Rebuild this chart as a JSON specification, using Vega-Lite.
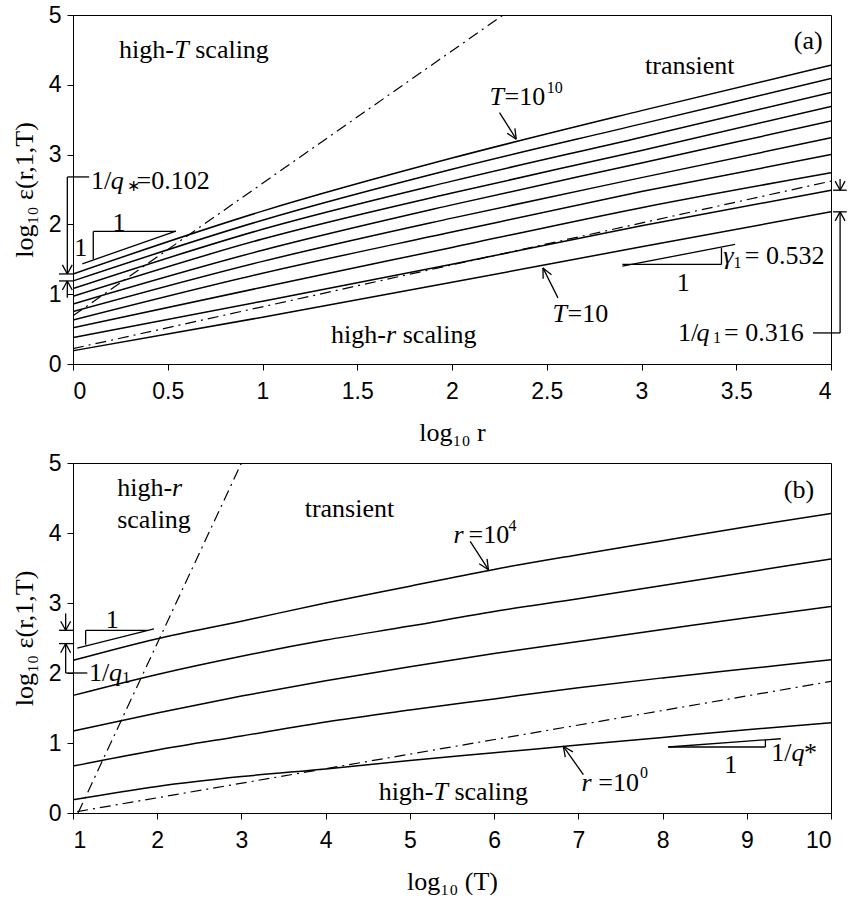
{
  "$schema": "https://vega.github.io/schema/vega-lite/v6.json",
  "background": "white",
  "padding": {"left": 10, "top": 3, "right": 8, "bottom": 0},
  "spacing": 5,
  "datasets": {
    "grid": [
      {"lr": 0, "lT": 1, "e": 0.19}, {"lr": 0, "lT": 2, "e": 0.38}, {"lr": 0, "lT": 3, "e": 0.52}, {"lr": 0, "lT": 4, "e": 0.63}, {"lr": 0, "lT": 5, "e": 0.75},
      {"lr": 0, "lT": 6, "e": 0.86}, {"lr": 0, "lT": 7, "e": 0.97}, {"lr": 0, "lT": 8, "e": 1.08}, {"lr": 0, "lT": 9, "e": 1.19}, {"lr": 0, "lT": 10, "e": 1.29},
      {"lr": 1, "lT": 1, "e": 0.67}, {"lr": 1, "lT": 2, "e": 0.90}, {"lr": 1, "lT": 3, "e": 1.10}, {"lr": 1, "lT": 4, "e": 1.30}, {"lr": 1, "lT": 5, "e": 1.47},
      {"lr": 1, "lT": 6, "e": 1.63}, {"lr": 1, "lT": 7, "e": 1.79}, {"lr": 1, "lT": 8, "e": 1.93}, {"lr": 1, "lT": 9, "e": 2.06}, {"lr": 1, "lT": 10, "e": 2.19},
      {"lr": 2, "lT": 1, "e": 1.17}, {"lr": 2, "lT": 2, "e": 1.43}, {"lr": 2, "lT": 3, "e": 1.67}, {"lr": 2, "lT": 4, "e": 1.89}, {"lr": 2, "lT": 5, "e": 2.09},
      {"lr": 2, "lT": 6, "e": 2.28}, {"lr": 2, "lT": 7, "e": 2.45}, {"lr": 2, "lT": 8, "e": 2.62}, {"lr": 2, "lT": 9, "e": 2.79}, {"lr": 2, "lT": 10, "e": 2.95},
      {"lr": 3, "lT": 1, "e": 1.68}, {"lr": 3, "lT": 2, "e": 1.98}, {"lr": 3, "lT": 3, "e": 2.24}, {"lr": 3, "lT": 4, "e": 2.47}, {"lr": 3, "lT": 5, "e": 2.67},
      {"lr": 3, "lT": 6, "e": 2.88}, {"lr": 3, "lT": 7, "e": 3.06}, {"lr": 3, "lT": 8, "e": 3.25}, {"lr": 3, "lT": 9, "e": 3.44}, {"lr": 3, "lT": 10, "e": 3.63},
      {"lr": 4, "lT": 1, "e": 2.18}, {"lr": 4, "lT": 2, "e": 2.49}, {"lr": 4, "lT": 3, "e": 2.74}, {"lr": 4, "lT": 4, "e": 3.00}, {"lr": 4, "lT": 5, "e": 3.24},
      {"lr": 4, "lT": 6, "e": 3.48}, {"lr": 4, "lT": 7, "e": 3.69}, {"lr": 4, "lT": 8, "e": 3.89}, {"lr": 4, "lT": 9, "e": 4.09}, {"lr": 4, "lT": 10, "e": 4.28}
    ],
    "asymA": [
      {"id": "highT", "x": 0, "y": 0.69}, {"id": "highT", "x": 2.27, "y": 5.0},
      {"id": "highR", "x": 0, "y": 0.22}, {"id": "highR", "x": 4, "y": 2.62}
    ],
    "asymB": [
      {"id": "highR", "x": 1.06, "y": 0}, {"id": "highR", "x": 3.0, "y": 5.0},
      {"id": "highT", "x": 1.05, "y": 0.02}, {"id": "highT", "x": 10, "y": 1.88}
    ],
    "strokesA": [
      {"x": -0.030, "y": 2.68, "x2": -0.030, "y2": 1.29},
      {"x": -0.030, "y": 2.68, "x2": 0.085, "y2": 2.68},
      {"x": -0.030, "y": 1.29, "x2": -0.056, "y2": 1.42},
      {"x": -0.030, "y": 1.29, "x2": -0.004, "y2": 1.42},
      {"x": -0.074, "y": 1.29, "x2": 0.0, "y2": 1.29},
      {"x": -0.074, "y": 1.19, "x2": 0.0, "y2": 1.19},
      {"x": -0.030, "y": 0.95, "x2": -0.030, "y2": 1.19},
      {"x": -0.030, "y": 1.19, "x2": -0.056, "y2": 1.06},
      {"x": -0.030, "y": 1.19, "x2": -0.004, "y2": 1.06},
      {"x": 0.049, "y": 1.435, "x2": 0.543, "y2": 1.904},
      {"x": 0.107, "y": 1.90, "x2": 0.107, "y2": 1.50},
      {"x": 0.107, "y": 1.90, "x2": 0.543, "y2": 1.90},
      {"x": 2.251, "y": 3.601, "x2": 2.339, "y2": 3.221},
      {"x": 2.339, "y": 3.221, "x2": 2.332, "y2": 3.376},
      {"x": 2.339, "y": 3.221, "x2": 2.291, "y2": 3.306},
      {"x": 2.559, "y": 0.947, "x2": 2.480, "y2": 1.377},
      {"x": 2.480, "y": 1.377, "x2": 2.481, "y2": 1.220},
      {"x": 2.480, "y": 1.377, "x2": 2.525, "y2": 1.280},
      {"x": 2.899, "y": 1.402, "x2": 3.494, "y2": 1.713},
      {"x": 2.899, "y": 1.426, "x2": 3.422, "y2": 1.426},
      {"x": 3.422, "y": 1.426, "x2": 3.422, "y2": 1.664},
      {"x": 3.905, "y": 0.445, "x2": 4.048, "y2": 0.445},
      {"x": 4.048, "y": 0.445, "x2": 4.048, "y2": 2.18},
      {"x": 4.048, "y": 2.18, "x2": 4.022, "y2": 2.05},
      {"x": 4.048, "y": 2.18, "x2": 4.074, "y2": 2.05},
      {"x": 4.011, "y": 2.18, "x2": 4.083, "y2": 2.18},
      {"x": 4.011, "y": 2.49, "x2": 4.083, "y2": 2.49},
      {"x": 4.048, "y": 2.65, "x2": 4.048, "y2": 2.49},
      {"x": 4.048, "y": 2.49, "x2": 4.022, "y2": 2.62},
      {"x": 4.048, "y": 2.49, "x2": 4.074, "y2": 2.62}
    ],
    "strokesB": [
      {"x": 0.913, "y": 2.85, "x2": 0.913, "y2": 2.61},
      {"x": 0.913, "y": 2.61, "x2": 0.854, "y2": 2.74},
      {"x": 0.913, "y": 2.61, "x2": 0.972, "y2": 2.74},
      {"x": 0.834, "y": 2.61, "x2": 1.0, "y2": 2.61},
      {"x": 0.834, "y": 2.42, "x2": 1.0, "y2": 2.42},
      {"x": 0.913, "y": 2.42, "x2": 0.854, "y2": 2.29},
      {"x": 0.913, "y": 2.42, "x2": 0.972, "y2": 2.29},
      {"x": 0.913, "y": 2.42, "x2": 0.913, "y2": 2.0},
      {"x": 0.913, "y": 2.0, "x2": 1.17, "y2": 2.0},
      {"x": 1.051, "y": 2.357, "x2": 1.961, "y2": 2.629},
      {"x": 1.150, "y": 2.61, "x2": 1.881, "y2": 2.61},
      {"x": 1.150, "y": 2.61, "x2": 1.150, "y2": 2.404},
      {"x": 5.716, "y": 3.881, "x2": 5.933, "y2": 3.476},
      {"x": 5.933, "y": 3.476, "x2": 5.916, "y2": 3.631},
      {"x": 5.933, "y": 3.476, "x2": 5.823, "y2": 3.560},
      {"x": 7.060, "y": 0.547, "x2": 6.822, "y2": 0.953},
      {"x": 6.822, "y": 0.953, "x2": 6.845, "y2": 0.799},
      {"x": 6.822, "y": 0.953, "x2": 6.935, "y2": 0.874},
      {"x": 8.067, "y": 0.943, "x2": 9.404, "y2": 1.061},
      {"x": 8.067, "y": 0.943, "x2": 9.221, "y2": 0.943},
      {"x": 9.221, "y": 0.943, "x2": 9.221, "y2": 1.047}
    ]
  },
  "config": {
    "view": {"stroke": "black", "strokeWidth": 1},
    "axis": {
      "grid": false,
      "domainColor": "black",
      "domainWidth": 1,
      "tickColor": "black",
      "tickSize": 6,
      "labelFont": "Liberation Sans",
      "labelFontSize": 23,
      "labelColor": "black",
      "titleFont": "Liberation Serif",
      "titleFontSize": 26,
      "titleFontWeight": "normal",
      "titleColor": "black"
    },
    "axisX": {"labelPadding": 10, "titlePadding": 16},
    "axisY": {"labelPadding": 6, "titlePadding": 11},
    "text": {"font": "Liberation Serif", "fontSize": 26, "color": "black", "baseline": "middle"},
    "rule": {"color": "black", "strokeWidth": 1.3},
    "line": {"color": "black", "strokeWidth": 1.5}
  },
  "vconcat": [
    {
      "width": 758,
      "height": 349,
      "encoding": {
        "x": {"type": "quantitative", "scale": {"domain": [0, 4], "nice": false, "zero": false},
              "axis": {"values": [0, 0.5, 1, 1.5, 2, 2.5, 3, 3.5, 4], "format": "~g", "title": "log₁₀ r"}},
        "y": {"type": "quantitative", "scale": {"domain": [0, 5], "nice": false},
              "axis": {"values": [0, 1, 2, 3, 4, 5], "title": "log₁₀ ε(r,1,T)"}}
      },
      "layer": [
        {
          "data": {"name": "grid"},
          "mark": {"type": "line", "clip": true, "interpolate": "monotone"},
          "encoding": {
            "x": {"field": "lr", "type": "quantitative"},
            "y": {"field": "e", "type": "quantitative"},
            "detail": {"field": "lT", "type": "quantitative"}
          }
        },
        {
          "data": {"name": "asymA"},
          "mark": {"type": "line", "clip": true, "strokeWidth": 1.2, "strokeDash": [11, 5, 2, 5]},
          "encoding": {
            "x": {"field": "x", "type": "quantitative"},
            "y": {"field": "y", "type": "quantitative"},
            "detail": {"field": "id", "type": "nominal"}
          }
        },
        {
          "data": {"name": "strokesA"},
          "mark": {"type": "rule"},
          "encoding": {
            "x": {"field": "x", "type": "quantitative"},
            "y": {"field": "y", "type": "quantitative"},
            "x2": {"field": "x2"},
            "y2": {"field": "y2"}
          }
        },
        {
          "data": {"values": [
            {"x": 0.243, "y": 4.5, "t": "high-"},
            {"x": 0.645, "y": 4.5, "t": "scaling"},
            {"x": 2.277, "y": 3.83, "t": "=10"},
            {"x": 2.61, "y": 0.72, "t": "=10"},
            {"x": 0.095, "y": 2.62, "t": "1/"},
            {"x": 0.335, "y": 2.62, "t": "=0.102"},
            {"x": 1.362, "y": 0.42, "t": "high-"},
            {"x": 1.740, "y": 0.42, "t": "scaling"},
            {"x": 3.545, "y": 1.545, "t": "= 0.532"},
            {"x": 3.193, "y": 0.445, "t": "1/"},
            {"x": 3.436, "y": 0.445, "t": "= 0.316"}
          ]},
          "mark": {"type": "text", "align": "left"},
          "encoding": {
            "x": {"field": "x", "type": "quantitative"},
            "y": {"field": "y", "type": "quantitative"},
            "text": {"field": "t"}
          }
        },
        {
          "data": {"values": [
            {"x": 3.255, "y": 4.27, "t": "transient"},
            {"x": 3.88, "y": 4.63, "t": "(a)"},
            {"x": 0.041, "y": 1.66, "t": "1"},
            {"x": 0.243, "y": 2.02, "t": "1"},
            {"x": 3.220, "y": 1.16, "t": "1"}
          ]},
          "mark": {"type": "text", "align": "center"},
          "encoding": {
            "x": {"field": "x", "type": "quantitative"},
            "y": {"field": "y", "type": "quantitative"},
            "text": {"field": "t"}
          }
        },
        {
          "data": {"values": [
            {"x": 0.534, "y": 4.5, "t": "T"},
            {"x": 2.198, "y": 3.83, "t": "T"},
            {"x": 2.531, "y": 0.72, "t": "T"},
            {"x": 0.199, "y": 2.62, "t": "q"},
            {"x": 1.652, "y": 0.42, "t": "r"},
            {"x": 3.431, "y": 1.545, "t": "γ"},
            {"x": 3.290, "y": 0.445, "t": "q"}
          ]},
          "mark": {"type": "text", "align": "left", "fontStyle": "italic"},
          "encoding": {
            "x": {"field": "x", "type": "quantitative"},
            "y": {"field": "y", "type": "quantitative"},
            "text": {"field": "t"}
          }
        },
        {
          "data": {"values": [
            {"x": 2.50, "y": 3.95, "t": "10"},
            {"x": 0.283, "y": 2.55, "t": "∗"},
            {"x": 3.377, "y": 0.373, "t": "1"},
            {"x": 3.485, "y": 1.445, "t": "1"}
          ]},
          "mark": {"type": "text", "align": "left", "fontSize": 16},
          "encoding": {
            "x": {"field": "x", "type": "quantitative"},
            "y": {"field": "y", "type": "quantitative"},
            "text": {"field": "t"}
          }
        }
      ]
    },
    {
      "width": 758,
      "height": 350,
      "encoding": {
        "x": {"type": "quantitative", "scale": {"domain": [1, 10], "nice": false, "zero": false},
              "axis": {"values": [1, 2, 3, 4, 5, 6, 7, 8, 9, 10], "title": "log₁₀ (T)"}},
        "y": {"type": "quantitative", "scale": {"domain": [0, 5], "nice": false},
              "axis": {"values": [0, 1, 2, 3, 4, 5], "title": "log₁₀ ε(r,1,T)"}}
      },
      "layer": [
        {
          "data": {"name": "grid"},
          "mark": {"type": "line", "clip": true, "interpolate": "monotone"},
          "encoding": {
            "x": {"field": "lT", "type": "quantitative"},
            "y": {"field": "e", "type": "quantitative"},
            "detail": {"field": "lr", "type": "quantitative"}
          }
        },
        {
          "data": {"name": "asymB"},
          "mark": {"type": "line", "clip": true, "strokeWidth": 1.2, "strokeDash": [11, 5, 2, 5]},
          "encoding": {
            "x": {"field": "x", "type": "quantitative"},
            "y": {"field": "y", "type": "quantitative"},
            "detail": {"field": "id", "type": "nominal"}
          }
        },
        {
          "data": {"name": "strokesB"},
          "mark": {"type": "rule"},
          "encoding": {
            "x": {"field": "x", "type": "quantitative"},
            "y": {"field": "y", "type": "quantitative"},
            "x2": {"field": "x2"},
            "y2": {"field": "y2"}
          }
        },
        {
          "data": {"values": [
            {"x": 1.525, "y": 4.64, "t": "high-"},
            {"x": 1.525, "y": 4.19, "t": "scaling"},
            {"x": 5.696, "y": 3.976, "t": "=10"},
            {"x": 7.237, "y": 0.429, "t": "=10"},
            {"x": 4.629, "y": 0.30, "t": "high-"},
            {"x": 5.529, "y": 0.30, "t": "scaling"},
            {"x": 9.292, "y": 0.857, "t": "1/"},
            {"x": 9.68, "y": 0.857, "t": "*"},
            {"x": 1.190, "y": 2.0, "t": "1/"}
          ]},
          "mark": {"type": "text", "align": "left"},
          "encoding": {
            "x": {"field": "x", "type": "quantitative"},
            "y": {"field": "y", "type": "quantitative"},
            "text": {"field": "t"}
          }
        },
        {
          "data": {"values": [
            {"x": 4.282, "y": 4.34, "t": "transient"},
            {"x": 9.62, "y": 4.62, "t": "(b)"},
            {"x": 8.811, "y": 0.69, "t": "1"},
            {"x": 1.466, "y": 2.76, "t": "1"}
          ]},
          "mark": {"type": "text", "align": "center"},
          "encoding": {
            "x": {"field": "x", "type": "quantitative"},
            "y": {"field": "y", "type": "quantitative"},
            "text": {"field": "t"}
          }
        },
        {
          "data": {"values": [
            {"x": 2.176, "y": 4.64, "t": "r"},
            {"x": 5.518, "y": 3.976, "t": "r"},
            {"x": 7.039, "y": 0.429, "t": "r"},
            {"x": 5.280, "y": 0.30, "t": "T"},
            {"x": 9.532, "y": 0.857, "t": "q"},
            {"x": 1.427, "y": 2.0, "t": "q"}
          ]},
          "mark": {"type": "text", "align": "left", "fontStyle": "italic"},
          "encoding": {
            "x": {"field": "x", "type": "quantitative"},
            "y": {"field": "y", "type": "quantitative"},
            "text": {"field": "t"}
          }
        },
        {
          "data": {"values": [
            {"x": 6.170, "y": 4.10, "t": "4"},
            {"x": 7.732, "y": 0.571, "t": "0"},
            {"x": 1.585, "y": 1.93, "t": "1"}
          ]},
          "mark": {"type": "text", "align": "left", "fontSize": 16},
          "encoding": {
            "x": {"field": "x", "type": "quantitative"},
            "y": {"field": "y", "type": "quantitative"},
            "text": {"field": "t"}
          }
        }
      ]
    }
  ]
}
